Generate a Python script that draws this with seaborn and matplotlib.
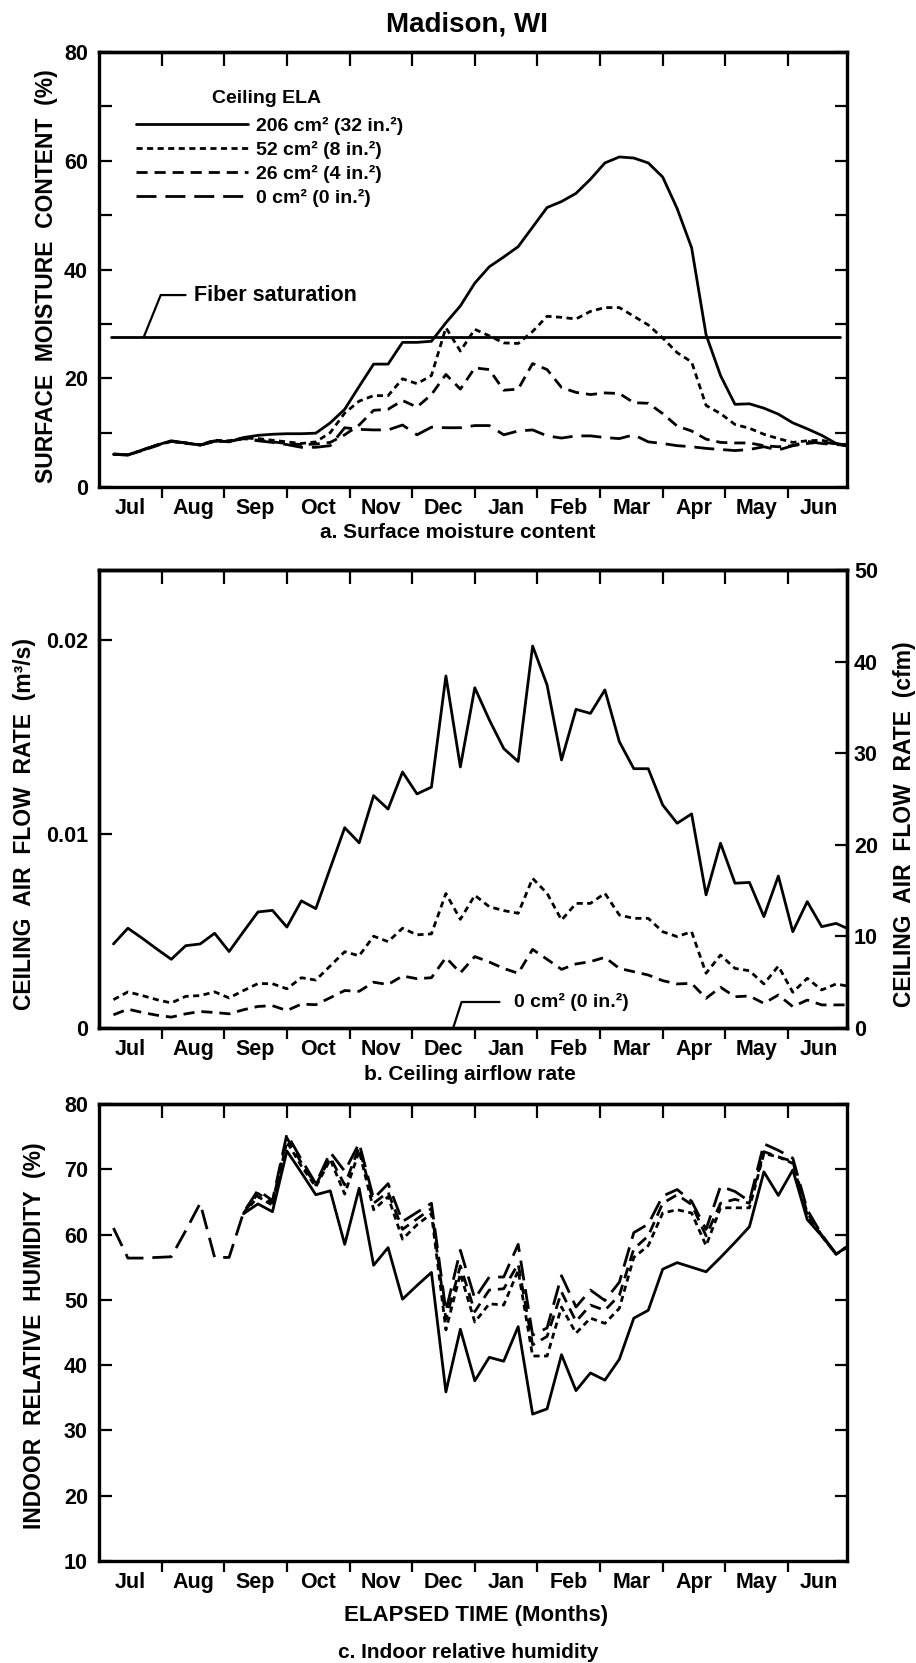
import numpy as np
import pandas as pd
import matplotlib
matplotlib.use("Agg")
import matplotlib.pyplot as plt
import seaborn as sns
from matplotlib.lines import Line2D

# ---------------- data ----------------
months = ["Jul", "Aug", "Sep", "Oct", "Nov", "Dec", "Jan", "Feb", "Mar", "Apr", "May", "Jun"]
weeks = list(range(1, 53))  # elapsed week of the weekly samples

ela_labels = ["206 cm\u00b2 (32 in.\u00b2)", "52 cm\u00b2 (8 in.\u00b2)",
              "26 cm\u00b2 (4 in.\u00b2)", "0 cm\u00b2 (0 in.\u00b2)"]

# a. surface moisture content (%)
mc_206 = [6.0, 5.9, 6.8, 7.7, 8.5, 8.1, 7.7, 8.5, 8.3, 9.1, 9.5, 9.7, 9.8, 9.8, 9.9, 11.8,
          14.3, 18.5, 22.6, 22.6, 26.6, 26.6, 26.8, 30.2, 33.3, 37.5, 40.5, 42.3, 44.2, 47.8,
          51.4, 52.5, 54.0, 56.6, 59.6, 60.7, 60.5, 59.6, 57.0, 51.2, 44.0, 28.0, 20.5, 15.2,
          15.3, 14.5, 13.4, 11.8, 10.7, 9.5, 8.0, 7.6]
mc_52 = [6.1, 5.9, 6.8, 7.7, 8.4, 8.0, 7.8, 8.6, 8.5, 9.0, 8.9, 8.6, 8.3, 8.0, 8.3, 10.0,
         13.6, 15.8, 16.8, 16.8, 19.9, 19.0, 20.5, 29.3, 25.0, 29.0, 27.8, 26.5, 26.4, 28.6,
         31.4, 31.2, 30.9, 32.3, 33.0, 33.0, 31.4, 29.8, 27.4, 24.7, 23.0, 15.0, 13.5, 11.5,
         10.8, 9.7, 8.9, 8.2, 8.5, 8.6, 8.0, 7.7]
mc_26 = [6.0, 5.9, 6.7, 7.6, 8.4, 8.1, 7.7, 8.4, 8.4, 8.9, 8.6, 8.3, 8.0, 7.8, 7.9, 8.2,
         9.6, 11.4, 14.1, 14.3, 15.9, 14.7, 17.0, 20.7, 18.0, 21.9, 21.6, 17.8, 18.0, 22.7,
         21.6, 18.3, 17.4, 17.0, 17.3, 17.2, 15.5, 15.4, 13.5, 11.2, 10.3, 8.8, 8.2, 8.1,
         8.1, 7.6, 7.4, 7.6, 8.0, 8.3, 7.9, 7.4]
mc_0 = [6.0, 5.9, 6.8, 7.7, 8.4, 8.1, 7.7, 8.4, 8.4, 8.9, 8.5, 8.2, 7.8, 7.3, 7.3, 7.6,
        10.9, 10.6, 10.5, 10.5, 11.4, 9.6, 11.0, 10.9, 10.9, 11.3, 11.3, 9.6, 10.3, 10.5,
        9.4, 9.0, 9.4, 9.4, 9.1, 8.9, 9.6, 8.3, 8.0, 7.6, 7.4, 7.1, 6.9, 6.7,
        6.9, 7.4, 6.8, 7.6, 8.4, 8.0, 7.8, 7.6]
fiber_saturation = 27.6

# b. ceiling airflow rate (m3/s)
flow_206 = [0.00433, 0.00514, 0.00462, 0.00407, 0.00354, 0.00424, 0.00433, 0.00488, 0.00394,
            0.00497, 0.00598, 0.00606, 0.0052, 0.00655, 0.00615, 0.00824, 0.01032, 0.00954,
            0.01197, 0.01128, 0.01319, 0.01206, 0.01241, 0.01814, 0.01345, 0.01753, 0.01588,
            0.0144, 0.01373, 0.01968, 0.01767, 0.01381, 0.01642, 0.01621, 0.01742, 0.01475,
            0.01336, 0.01336, 0.01149, 0.01055, 0.01103, 0.00686, 0.00952, 0.00746, 0.0075,
            0.00574, 0.00783, 0.00496, 0.00651, 0.00522, 0.00539, 0.00505]
flow_52 = [0.00146, 0.00186, 0.00167, 0.00146, 0.00129, 0.00163, 0.00167, 0.00186, 0.00155,
           0.00193, 0.00229, 0.00228, 0.00202, 0.00259, 0.00247, 0.0032, 0.00393, 0.00372,
           0.00473, 0.00445, 0.00514, 0.0048, 0.00485, 0.00693, 0.0056, 0.00684, 0.00625,
           0.00605, 0.00591, 0.00771, 0.00694, 0.00556, 0.00642, 0.00642, 0.00694, 0.00582,
           0.00565, 0.00565, 0.00496, 0.00471, 0.00496, 0.00282, 0.00376, 0.00307, 0.00295,
           0.00227, 0.00319, 0.00184, 0.00256, 0.00196, 0.00227, 0.00213]
flow_26 = [0.00068, 0.00097, 0.0008, 0.00066, 0.00056, 0.00073, 0.00085, 0.0008, 0.00073,
           0.00094, 0.00111, 0.00115, 0.0009, 0.00123, 0.0012, 0.00156, 0.00193, 0.00189,
           0.00236, 0.00224, 0.00268, 0.00254, 0.00259, 0.00363, 0.00284, 0.00368, 0.0034,
           0.00307, 0.00282, 0.00405, 0.00354, 0.00302, 0.0033, 0.00342, 0.00364, 0.00307,
           0.0029, 0.00273, 0.00244, 0.00227, 0.0023, 0.00153, 0.0021, 0.00161, 0.00165,
           0.00127, 0.0017, 0.0011, 0.00144, 0.00119, 0.00119, 0.00119]
CFM_TO_M3S = 0.000471947

# c. indoor relative humidity (%)
na = float("nan")
rh_206 = [na] * 9 + [63.2, 64.7, 63.5, 72.8, 69.5, 66.1, 66.7, 58.5, 67.1, 55.3, 58.0, 50.1,
                     52.2, 54.2, 35.9, 45.5, 37.6, 41.2, 40.6, 45.9, 32.5, 33.3, 41.6, 36.1,
                     38.8, 37.7, 40.9, 47.2, 48.4, 54.7, 55.7, 55.0, 54.3, 56.5, 58.8, 61.2,
                     69.6, 66.0, 69.9, 62.3, 59.8, 57.0, 58.5]
rh_52 = [na] * 9 + [63.2, 65.8, 64.5, 74.2, 70.5, 67.3, 71.5, 66.2, 72.8, 63.8, 65.8, 59.3,
                    61.5, 63.2, 45.4, 54.0, 46.6, 49.4, 49.2, 54.5, 41.4, 41.4, 48.9, 44.9,
                    47.2, 46.4, 48.7, 56.5, 58.3, 63.3, 63.8, 63.3, 58.3, 64.1, 64.1, 64.1,
                    72.4, 71.9, 70.9, 63.0, 59.8, 57.0, 58.5]
rh_26 = [na] * 9 + [63.3, 66.3, 64.8, 74.8, 71.0, 67.6, 71.8, 67.6, 73.4, 64.8, 66.5, 60.8,
                    62.4, 64.0, 47.0, 55.2, 48.2, 51.5, 51.7, 55.5, 43.1, 44.4, 51.2, 46.7,
                    49.2, 48.4, 50.7, 57.8, 59.8, 64.8, 66.1, 64.6, 59.8, 64.8, 65.4, 64.8,
                    72.7, 71.9, 71.2, 63.3, 59.9, 57.0, 58.5]
rh_0 = [61.0, 56.4, 56.4, 56.5, 56.6, 60.6, 64.8, 56.5, 56.5,
        63.4, 66.8, 65.2, 75.4, 71.5, 67.8, 72.6, 69.7, 74.0, 65.5, 67.8, 62.0,
        63.4, 64.8, 48.3, 57.6, 50.2, 53.5, 53.5, 58.5, 44.6, 45.7, 53.7, 48.9,
        51.5, 49.9, 52.7, 60.3, 61.6, 65.9, 66.9, 65.1, 60.8, 67.4, 66.6, 65.1,
        73.9, 72.9, 71.7, 63.8, 60.0, 57.0, 58.5]

# ---------------- style ----------------
sns.set_style("ticks", rc={"axes.edgecolor": "black", "text.color": "black",
                           "xtick.color": "black", "ytick.color": "black",
                           "axes.labelcolor": "black"})
plt.rcParams["font.family"] = ["Liberation Sans", "DejaVu Sans"]
plt.rcParams["font.weight"] = "bold"

LW = 2.0
TICK_FS = 15.5
dash_map = {ela_labels[0]: "", ela_labels[1]: (2.2, 1.6),
            ela_labels[2]: (4.0, 2.5), ela_labels[3]: (7.2, 3.2)}


def long_df(series):
    frames = []
    for lab, vals in series:
        frames.append(pd.DataFrame({"week": weeks, "value": vals, "ELA": lab}))
    return pd.concat(frames, ignore_index=True)


month_len = 52 / 12
month_edges = [k * month_len for k in range(1, 12)]
month_centers = [(k + 0.5) * month_len for k in range(12)]


def style_axes(ax):
    ax.set_xlim(0, 51.75)
    ax.set_xticks(month_edges)
    ax.set_xticklabels([])
    ax.set_xticks(month_centers, minor=True)
    ax.set_xticklabels(months, minor=True, fontweight="bold")
    ax.tick_params(axis="x", which="major", direction="out", length=8, width=1.6,
                   top=False, bottom=True)
    ax.tick_params(axis="x", which="minor", length=0, pad=8, labelsize=TICK_FS)
    sec = ax.secondary_xaxis("top")
    sec.set_xticks(month_edges)
    sec.set_xticklabels([])
    sec.tick_params(axis="x", direction="in", length=10, width=1.6)
    sec.spines["top"].set_linewidth(2.4)
    for sp in ax.spines.values():
        sp.set_linewidth(2.4)
        sp.set_visible(True)
    ax.set_xlabel("")
    ax.set_ylabel("")


fig = plt.figure(figsize=(9.16, 16.63), dpi=100)
axL = 99 / 916
axW = 748 / 916
H = 1663
ax_a = fig.add_axes([axL, 1 - 487 / H, axW, 435 / H])
ax_b = fig.add_axes([axL, 1 - 1028 / H, axW, 458 / H])
ax_c = fig.add_axes([axL, 1 - 1561 / H, axW, 457 / H])

# ---- panel a ----
df_a = long_df([(ela_labels[0], mc_206), (ela_labels[1], mc_52),
                (ela_labels[2], mc_26), (ela_labels[3], mc_0)])
sns.lineplot(data=df_a, x="week", y="value", style="ELA", style_order=ela_labels,
             dashes=dash_map, color="black", lw=LW, legend=False, ax=ax_a,
             estimator=None, sort=False)
ax_a.axhline(fiber_saturation, xmin=0.016, xmax=0.99, color="black", lw=LW)
style_axes(ax_a)
ax_a.set_ylim(0, 80)
ax_a.set_yticks([0, 20, 40, 60, 80])
ax_a.set_yticks([10, 30, 50, 70], minor=True)
ax_a.tick_params(axis="y", which="both", direction="in", left=True, right=True,
                 length=9, width=1.6, labelsize=TICK_FS, pad=8)
ax_a.annotate("Fiber saturation", xy=(3.1, fiber_saturation), xytext=(6.6, 35.3),
              fontsize=15.5, fontweight="bold", ha="left", va="center",
              arrowprops=dict(arrowstyle="-", connectionstyle="angle,angleA=0,angleB=68,rad=0",
                              relpos=(0, 0.5), shrinkA=4, shrinkB=0, lw=1.6, color="black"))
handles = [Line2D([], [], color="black", lw=LW, linestyle="-")]
for lab in ela_labels[1:]:
    handles.append(Line2D([], [], color="black", lw=LW, dashes=dash_map[lab]))
ax_a.text(0.2246, 0.892, "Ceiling ELA", transform=ax_a.transAxes, ha="center", va="center",
          fontsize=14, fontweight="bold")
leg = ax_a.legend(handles, ela_labels, prop={"size": 14, "weight": "bold"},
                  frameon=False, loc="upper left", bbox_to_anchor=(0.0495, 0.850),
                  borderpad=0, borderaxespad=0, handlelength=5.75, handletextpad=0.41,
                  labelspacing=0.30)

# ---- panel b ----
df_b = long_df([(ela_labels[0], flow_206), (ela_labels[1], flow_52),
                (ela_labels[2], flow_26)])
sns.lineplot(data=df_b, x="week", y="value", style="ELA", style_order=ela_labels[:3],
             dashes={k: dash_map[k] for k in ela_labels[:3]}, color="black", lw=LW,
             legend=False, ax=ax_b, estimator=None, sort=False)
style_axes(ax_b)
ax_b.set_ylim(0, 50 * CFM_TO_M3S)
ax_b.set_yticks([0, 0.01, 0.02])
ax_b.set_yticklabels(["0", "0.01", "0.02"], fontweight="bold")
ax_b.tick_params(axis="y", direction="in", left=True, right=False, length=9, width=1.6,
                 labelsize=TICK_FS, pad=8)
ax_b2 = ax_b.twinx()
ax_b2.set_ylim(0, 50)
ax_b2.set_yticks([0, 10, 20, 30, 40, 50])
ax_b2.tick_params(axis="y", direction="in", length=9, width=1.6, labelsize=TICK_FS, pad=5)
for sp in ax_b2.spines.values():
    sp.set_linewidth(2.4)
ax_b.annotate(ela_labels[3], xy=(24.5, 0), xytext=(28.7, 0.00134), fontsize=14,
              fontweight="bold", ha="left", va="center", annotation_clip=False,
              arrowprops=dict(arrowstyle="-", connectionstyle="angle,angleA=0,angleB=72,rad=0",
                              relpos=(0, 0.5), shrinkA=8, shrinkB=0, lw=1.6, color="black"))

# ---- panel c ----
df_c = long_df([(ela_labels[0], rh_206), (ela_labels[1], rh_52),
                (ela_labels[2], rh_26), (ela_labels[3], rh_0)]).dropna()
sns.lineplot(data=df_c, x="week", y="value", style="ELA", style_order=ela_labels,
             dashes=dash_map, color="black", lw=LW, legend=False, ax=ax_c,
             estimator=None, sort=False)
style_axes(ax_c)
ax_c.set_ylim(10, 80)
ax_c.set_yticks(list(range(10, 81, 10)))
ax_c.tick_params(axis="y", direction="in", left=True, right=True, length=9, width=1.6,
                 labelsize=TICK_FS, pad=8)

for ax in (ax_a, ax_b, ax_b2, ax_c):
    for t in ax.get_yticklabels():
        t.set_fontweight("bold")

# ---- texts ----
fig.text(467 / 916, 1 - 25 / H, "Madison, WI", ha="center", va="center", fontsize=20,
         fontweight="bold")
cap_kw = dict(ha="center", va="center", fontsize=15, fontweight="bold")
fig.text(458 / 916, 1 - 532 / H, "a. Surface moisture content", **cap_kw)
fig.text(470 / 916, 1 - 1074 / H, "b. Ceiling airflow rate", **cap_kw)
fig.text(476 / 916, 1 - 1615 / H, "ELAPSED TIME (Months)", ha="center", va="center",
         fontsize=16, fontweight="bold")
fig.text(468 / 916, 1 - 1652 / H, "c. Indoor relative humidity", **cap_kw)
ylab_kw = dict(rotation=90, ha="center", va="center", fontsize=16.5, fontweight="bold")
fig.text(47 / 916, 1 - 276 / H, "SURFACE  MOISTURE  CONTENT  (%)", **ylab_kw)
fig.text(25 / 916, 1 - 824 / H, "CEILING  AIR  FLOW  RATE  (m\u00b3/s)", **ylab_kw)
fig.text(904 / 916, 1 - 824 / H, "CEILING  AIR  FLOW  RATE  (cfm)", **ylab_kw)
fig.text(35 / 916, 1 - 1336 / H, "INDOOR  RELATIVE  HUMIDITY  (%)", **ylab_kw)

fig.savefig("out.png", dpi=100)
